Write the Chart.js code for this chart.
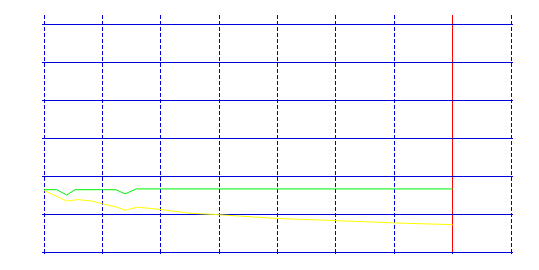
<!DOCTYPE html>
<html>
<head>
<meta charset="utf-8">
<script src="https://cdn.jsdelivr.net/npm/chart.js@4/dist/chart.umd.min.js"></script>
<style>
  body { margin: 0; background: #fff; }
</style>
</head>
<body>
<canvas id="myChart" width="539" height="270"></canvas>
<script>
  // data
  const greenX = [0, 0.22, 0.39, 0.53, 1.23, 1.39, 1.58, 7.0];
  const greenY = [1.64, 1.64, 1.50, 1.64, 1.64, 1.53, 1.66, 1.66];
  const yellowX = [0, 0.39, 0.58, 0.82, 1.0, 1.25, 1.39, 1.59, 1.95, 2.5, 2.9, 3.31, 3.91, 4.39, 5.1, 6.1, 7.0];
  const yellowY = [1.62, 1.34, 1.38, 1.34, 1.27, 1.18, 1.10, 1.18, 1.13, 1.02, 0.99, 0.95, 0.89, 0.86, 0.82, 0.76, 0.72];
  const markerX = 7; // red vertical line

  const blue = 'rgb(0,0,221)';
  const red = 'rgb(255,0,0)';

  const toPoints = (xs, ys) => xs.map((x, i) => ({ x: x, y: ys[i] }));

  const ctx = document.getElementById('myChart').getContext('2d');
  const myChart = new Chart(ctx, {
    type: 'line',
    data: {
      datasets: [
        {
          label: 'green',
          data: toPoints(greenX, greenY),
          borderColor: 'rgb(0,238,0)',
          borderWidth: 1,
          pointRadius: 0,
          tension: 0
        },
        {
          label: 'yellow',
          data: toPoints(yellowX, yellowY),
          borderColor: 'rgb(255,255,0)',
          borderWidth: 1,
          pointRadius: 0,
          tension: 0
        }
      ]
    },
    options: {
      responsive: false,
      animation: false,
      devicePixelRatio: 1,
      layout: { padding: { left: 42, right: 26, top: 15, bottom: 16 } },
      plugins: {
        legend: { display: false },
        tooltip: { enabled: false }
      },
      scales: {
        x: {
          type: 'linear',
          min: 0,
          max: 8,
          ticks: { display: false, stepSize: 1 },
          grid: {
            color: (c) => (c.tick && c.tick.value === markerX ? red : blue),
            tickColor: blue,
            tickLength: 2,
            lineWidth: 1
          },
          border: {
            color: blue,
            dash: (c) => (c.tick ? (c.tick.value === markerX ? [] : [4, 2]) : [])
          }
        },
        y: {
          min: 0,
          max: 6.24,
          ticks: { display: false, stepSize: 1, includeBounds: false },
          grid: { color: blue, tickColor: blue, tickLength: 2 },
          border: { display: false }
        },
        y2: {
          position: 'right',
          min: 0,
          max: 6.24,
          ticks: { display: false, stepSize: 1, includeBounds: false },
          grid: { drawOnChartArea: false, color: blue, tickColor: blue, tickLength: 2 },
          border: { display: false }
        }
      }
    }
  });
</script>
</body>
</html>
